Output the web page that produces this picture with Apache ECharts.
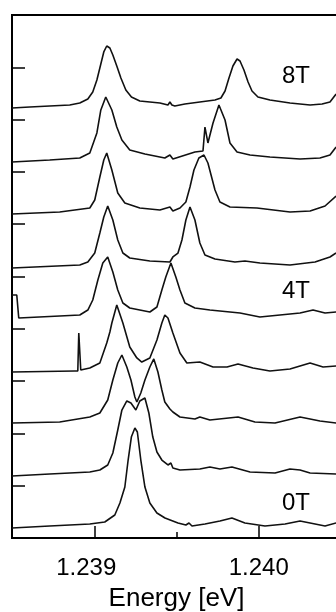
<!doctype html>
<html>
<head>
<meta charset="UTF-8">
<title>Zeeman spectra</title>
<script src="https://cdn.jsdelivr.net/npm/echarts@6/dist/echarts.min.js"></script>
<style>
  html, body { margin: 0; padding: 0; background: #fff; }
  #main { width: 336px; height: 612px; }
</style>
</head>
<body>
<div id="main"></div>
<script>
// energy axis
var xMin = 1.2385, xMax = 1.2405;
var majorTicks = [1.239, 1.240];
var minorTicks = [1.2395];
var yTicks = [1, 2, 3, 4, 5, 6, 7, 8, 9];
var fieldLabels = ['8T', '4T', '0T'];

// spectra, already stacked as in the figure: [energy eV, intensity + offset]
var t8 = [[1.2385,8.222],[1.238608,8.241],[1.238729,8.260],[1.238851,8.279],[1.238912,8.317],[1.238961,8.394],[1.238991,8.528],[1.239016,8.757],[1.239040,9.063],[1.239058,9.293],[1.239076,9.407],[1.239095,9.369],[1.239113,9.235],[1.239137,9.025],[1.239162,8.795],[1.239192,8.566],[1.239226,8.432],[1.239277,8.356],[1.239338,8.337],[1.239399,8.317],[1.239448,8.279],[1.239460,8.337],[1.239472,8.279],[1.239490,8.260],[1.239551,8.298],[1.239642,8.337],[1.239734,8.375],[1.239770,8.413],[1.239795,8.547],[1.239819,8.795],[1.239843,9.025],[1.239868,9.159],[1.239886,9.120],[1.239910,8.948],[1.239935,8.719],[1.239959,8.547],[1.239995,8.432],[1.240068,8.375],[1.240190,8.317],[1.240312,8.279],[1.240385,8.298],[1.240433,8.337],[1.240470,8.489]];
var t7 = [[1.2385,7.189],[1.238729,7.228],[1.238912,7.266],[1.238973,7.361],[1.239016,7.744],[1.239040,8.184],[1.239070,8.432],[1.239107,8.184],[1.239137,7.858],[1.239168,7.610],[1.239216,7.419],[1.239308,7.342],[1.239429,7.266],[1.239460,7.323],[1.239478,7.247],[1.239612,7.380],[1.239661,7.400],[1.239673,7.858],[1.239691,7.553],[1.239722,7.935],[1.239758,8.279],[1.239795,7.992],[1.239825,7.553],[1.239868,7.380],[1.239947,7.323],[1.240068,7.285],[1.240251,7.247],[1.240372,7.266],[1.240433,7.323],[1.240470,7.476]];
var t6 = [[1.2385,6.195],[1.238790,6.233],[1.238973,6.310],[1.239003,6.463],[1.239034,6.902],[1.239058,7.228],[1.239076,7.361],[1.239107,7.036],[1.239143,6.597],[1.239186,6.405],[1.239277,6.310],[1.239399,6.272],[1.239460,6.329],[1.239478,6.252],[1.239521,6.310],[1.239557,6.424],[1.239582,6.711],[1.239606,7.036],[1.239636,7.266],[1.239667,7.323],[1.239691,7.170],[1.239734,6.654],[1.239764,6.424],[1.239825,6.329],[1.239989,6.310],[1.240190,6.233],[1.240312,6.252],[1.240403,6.348],[1.240470,6.539]];
var t5 = [[1.2385,5.163],[1.238912,5.220],[1.238961,5.277],[1.239003,5.449],[1.239034,5.832],[1.239058,6.138],[1.239082,6.348],[1.239113,6.080],[1.239143,5.698],[1.239174,5.449],[1.239216,5.354],[1.239338,5.296],[1.239460,5.277],[1.239478,5.373],[1.239509,5.449],[1.239533,5.698],[1.239557,6.080],[1.239582,6.329],[1.239612,6.080],[1.239642,5.641],[1.239673,5.411],[1.239734,5.335],[1.239855,5.277],[1.239916,5.296],[1.240007,5.258],[1.240190,5.220],[1.240342,5.277],[1.240433,5.373],[1.240470,5.449]];
var t4 = [[1.2385,4.646],[1.238529,4.646],[1.238541,4.207],[1.238790,4.245],[1.238912,4.264],[1.238961,4.359],[1.238991,4.551],[1.239022,4.933],[1.239052,5.258],[1.239082,5.373],[1.239113,5.086],[1.239143,4.742],[1.239174,4.493],[1.239216,4.398],[1.239338,4.321],[1.239381,4.417],[1.239411,4.742],[1.239435,4.990],[1.239466,5.258],[1.239496,4.990],[1.239521,4.742],[1.239551,4.493],[1.239612,4.398],[1.239703,4.359],[1.239886,4.302],[1.240007,4.226],[1.240129,4.264],[1.240251,4.302],[1.240330,4.359],[1.240403,4.302],[1.240470,4.321]];
var t3 = [[1.2385,3.174],[1.238882,3.193],[1.238900,3.193],[1.238906,3.920],[1.238918,3.212],[1.238973,3.250],[1.239034,3.346],[1.239076,3.728],[1.239095,3.939],[1.239107,4.111],[1.239137,4.455],[1.239174,4.111],[1.239216,3.652],[1.239259,3.442],[1.239289,3.365],[1.239338,3.442],[1.239381,3.786],[1.239411,4.111],[1.239429,4.264],[1.239448,4.207],[1.239478,3.920],[1.239521,3.537],[1.239563,3.346],[1.239642,3.365],[1.239722,3.270],[1.239807,3.270],[1.239874,3.327],[1.239965,3.250],[1.240068,3.193],[1.240190,3.231],[1.240312,3.346],[1.240391,3.270],[1.240470,3.289]];
var t2 = [[1.2385,2.199],[1.238790,2.218],[1.238973,2.314],[1.239034,2.390],[1.239082,2.639],[1.239113,3.021],[1.239143,3.346],[1.239168,3.499],[1.239198,3.270],[1.239223,3.021],[1.239247,2.696],[1.239259,2.600],[1.239283,2.772],[1.239308,3.021],[1.239338,3.270],[1.239362,3.423],[1.239387,3.174],[1.239411,2.830],[1.239429,2.600],[1.239460,2.467],[1.239478,2.409],[1.239521,2.314],[1.239612,2.275],[1.239642,2.314],[1.239703,2.256],[1.239874,2.314],[1.239977,2.218],[1.240099,2.199],[1.240251,2.314],[1.240312,2.275],[1.240372,2.237],[1.240470,2.199]];
var t1 = [[1.2385,1.185],[1.238729,1.224],[1.238973,1.262],[1.239034,1.300],[1.239082,1.396],[1.239113,1.625],[1.239143,2.065],[1.239168,2.447],[1.239198,2.620],[1.239223,2.581],[1.239253,2.447],[1.239277,2.620],[1.239308,2.677],[1.239332,2.390],[1.239356,1.931],[1.239381,1.644],[1.239411,1.491],[1.239448,1.396],[1.239466,1.434],[1.239478,1.338],[1.239521,1.300],[1.239642,1.319],[1.239703,1.358],[1.239764,1.319],[1.239837,1.358],[1.239947,1.262],[1.240099,1.243],[1.240190,1.319],[1.240251,1.300],[1.240312,1.243],[1.240470,1.224]];
var t0 = [[1.2385,0.191],[1.238729,0.229],[1.238973,0.268],[1.239064,0.306],[1.239125,0.440],[1.239156,0.669],[1.239186,0.975],[1.239206,1.491],[1.239226,1.937],[1.239247,2.103],[1.239262,2.027],[1.239283,1.491],[1.239308,0.975],[1.239338,0.669],[1.239381,0.478],[1.239430,0.382],[1.239509,0.287],[1.239557,0.249],[1.239576,0.287],[1.239594,0.229],[1.239673,0.268],[1.239764,0.325],[1.239837,0.382],[1.239916,0.287],[1.240038,0.229],[1.240160,0.268],[1.240251,0.325],[1.240312,0.287],[1.240403,0.229],[1.240470,0.287]];

var traces = [t0, t1, t2, t3, t4, t5, t6, t7, t8];

var myChart = echarts.init(document.getElementById('main'));
var font = '"Liberation Sans", Arial, sans-serif';

var series = traces.map(function (d, i) {
    return {
        name: i + 'T',
        type: 'line',
        data: d,
        showSymbol: false,
        symbol: 'none',
        lineStyle: { color: '#111', width: 1.6 },
        clip: true
    };
});

var labelTops = [64, 279, 491];
var graphic = fieldLabels.map(function (t, i) {
    return {
        type: 'text', left: 282, top: labelTops[i],
        style: { text: t, font: '24px ' + font, fill: '#000' }
    };
});

var option = {
    animation: false,
    backgroundColor: '#fff',
    grid: {
        left: 12, top: 15, width: 329, height: 523,
        outerBoundsMode: 'none',
        show: true, borderColor: '#000', borderWidth: 2
    },
    xAxis: [{
        type: 'value', min: xMin, max: xMax,
        position: 'bottom',
        axisLine: { show: true, lineStyle: { color: '#000', width: 2 } },
        axisTick: { show: true, inside: true, length: 12, customValues: majorTicks, lineStyle: { color: '#000', width: 1.5 } },
        axisLabel: {
            show: true, customValues: majorTicks, margin: 18,
            color: '#000', fontFamily: font, fontSize: 24,
            formatter: function (v) {
                var s = v.toFixed(3);
                return v < 1.2395 ? '{l|' + s + '}' : '{r|' + s + '}';
            },
            rich: {
                l: { fontFamily: font, fontSize: 24, color: '#000', padding: [0, 16, 0, 0] },
                r: { fontFamily: font, fontSize: 24, color: '#000' }
            }
        },
        splitLine: { show: false },
        name: 'Energy [eV]', nameLocation: 'middle', nameGap: 48,
        nameTextStyle: { color: '#000', fontFamily: font, fontSize: 26 }
    }, {
        type: 'value', min: xMin, max: xMax,
        position: 'bottom',
        axisLine: { show: false },
        axisTick: { show: true, inside: true, length: 6, customValues: minorTicks, lineStyle: { color: '#000', width: 1.5 } },
        axisLabel: { show: false },
        splitLine: { show: false }
    }],
    yAxis: {
        type: 'value', min: 0, max: 10,
        axisLine: { show: true, lineStyle: { color: '#000', width: 2 } },
        axisTick: { show: true, inside: true, length: 13, customValues: yTicks, lineStyle: { color: '#000', width: 1.5 } },
        axisLabel: { show: false },
        splitLine: { show: false }
    },
    graphic: graphic,
    series: series
};

myChart.setOption(option);
</script>
</body>
</html>
